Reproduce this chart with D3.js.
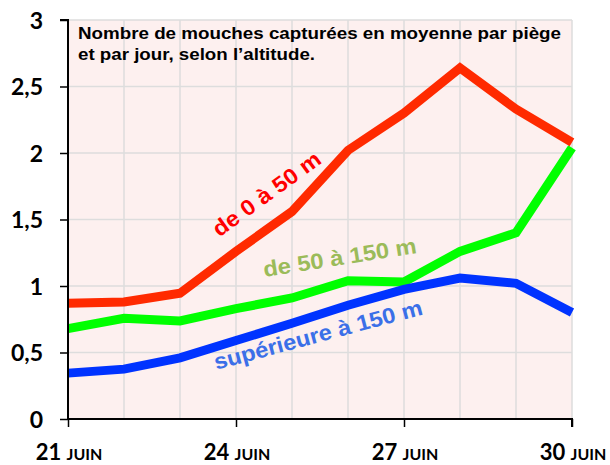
<!DOCTYPE html>
<html><head><meta charset="utf-8">
<script src="https://cdn.jsdelivr.net/npm/d3@7"></script>
<style>body{margin:0;background:#fff;} svg{display:block;}</style>
</head><body>
<svg id="c" width="610" height="465"></svg>
<script>
const days = [21,22,23,24,25,26,27,28,29,30];
const tickDays = [21,24,27,30];
const yTicks = [0,0.5,1,1.5,2,2.5,3];
const red = [0.87,0.88,0.945,1.26,1.56,2.02,2.30,2.64,2.33,2.08];
const green = [0.68,0.757,0.737,0.83,0.91,1.04,1.03,1.26,1.40,2.04];
const blue = [0.345,0.375,0.46,0.59,0.72,0.855,0.975,1.06,1.02,0.80];
const titleLines = ["Nombre de mouches capturées en moyenne par piège","et par jour, selon l\u2019altitude."];
const seriesNames = ["de 0 à 50 m","de 50 à 150 m","supérieure à 150 m"];

const svg = d3.select("#c");
const L=68,R=572,T=20,B=419;
const x = d3.scaleLinear().domain([21,30]).range([L,R]);
const y = d3.scaleLinear().domain([0,3]).range([B,T]);
const SANS = "'Liberation Sans', Arial, Helvetica, sans-serif";

svg.append("rect").attr("x",L).attr("y",T).attr("width",R-L).attr("height",B-T).attr("fill","#fdf0ef");
svg.append("g").selectAll("line").data(days.slice(1)).join("line")
  .attr("x1",d=>x(d)).attr("x2",d=>x(d)).attr("y1",T).attr("y2",B)
  .attr("stroke","#dddddd").attr("stroke-width",1.5);
svg.append("g").selectAll("line").data(yTicks.slice(1)).join("line")
  .attr("x1",L).attr("x2",R).attr("y1",d=>y(d)).attr("y2",d=>y(d))
  .attr("stroke","#dddddd").attr("stroke-width",1.5);

const titleW = [483,237];
svg.append("g").selectAll("text").data(titleLines).join("text")
  .attr("x",78).attr("y",(d,i)=>39+i*21)
  .style("font-family",SANS).attr("font-weight","bold")
  .attr("font-size",17).attr("fill","#000")
  .attr("textLength",(d,i)=>titleW[i]).attr("lengthAdjust","spacingAndGlyphs").text(d=>d);

const line = d3.line().x((d,i)=>x(days[i])).y(d=>y(d));
const series = [[green,"#00ff00"],[blue,"#0033ff"],[red,"#ff2a00"]];
series.forEach(([vals,col])=>{
  svg.append("path").attr("d",line(vals)).attr("fill","none").attr("stroke",col)
    .attr("stroke-width",9).attr("stroke-linejoin","miter").attr("stroke-linecap","butt");
});

const labs = [
  {t:seriesNames[0],x:271,y:200,a:-36,c:"#ff0000",w:128},
  {t:seriesNames[1],x:341,y:265,a:-9,c:"#9bbb59",w:155},
  {t:seriesNames[2],x:320,y:342,a:-15,c:"#3b6fe8",w:215}
];
labs.forEach(l=>{
  svg.append("text").attr("transform",`translate(${l.x},${l.y}) rotate(${l.a})`)
    .attr("text-anchor","middle").style("font-family",SANS)
    .attr("font-weight","bold").attr("font-size",22).attr("fill",l.c)
    .attr("textLength",l.w).attr("lengthAdjust","spacingAndGlyphs").text(l.t);
});

const yAxis = d3.axisLeft(y).tickValues(yTicks).tickSize(8).tickFormat(d=>String(d).replace(".",","));
const gy = svg.append("g").attr("transform",`translate(${L},0)`).call(yAxis);
gy.select(".domain").attr("stroke","#000").attr("stroke-width",2).attr("d",`M-8,${T}H0V${B}`);
gy.selectAll(".tick line").attr("stroke","#000").attr("stroke-width",1.5);
gy.selectAll(".tick text").attr("x",-25).attr("dy","0.36em").style("font-family","Lato, sans-serif")
  .attr("font-weight","bold").attr("font-size",23).attr("fill","#000");

const xAxis = d3.axisBottom(x).tickValues(tickDays).tickSize(8).tickFormat("");
const gx = svg.append("g").attr("transform",`translate(0,${B})`).call(xAxis);
gx.select(".domain").attr("stroke","#000").attr("stroke-width",2).attr("d",`M${L},0H${R}V8`);
gx.selectAll(".tick line").attr("stroke","#000").attr("stroke-width",1.5);
const xl = svg.append("g").selectAll("text").data(tickDays).join("text")
  .attr("x",d=>x(d)+1).attr("y",460).attr("text-anchor","middle")
  .style("font-family","Lato, sans-serif").attr("font-weight","bold").attr("fill","#000");
xl.append("tspan").attr("font-size",22).text(d=>d+" ");
xl.append("tspan").attr("font-size",16).text("JUIN");
</script>
</body></html>
